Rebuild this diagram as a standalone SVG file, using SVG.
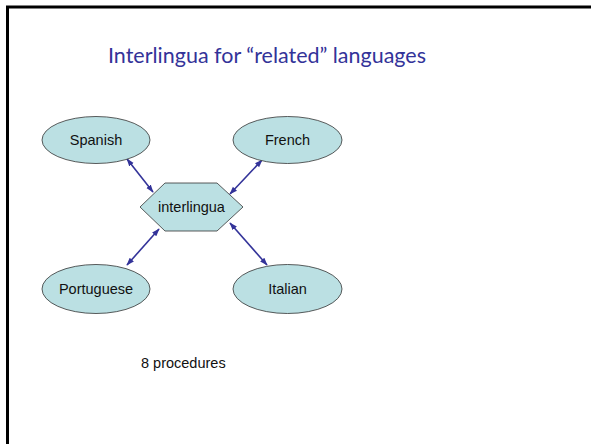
<svg xmlns="http://www.w3.org/2000/svg" width="591" height="444" viewBox="0 0 591 444">
<defs>
<style>
.node{fill:#BBE0E3;stroke:#333333;stroke-width:0.8}
.lbl{font-family:"Liberation Sans",Arial,sans-serif;font-size:14.5px;fill:#111111;text-anchor:middle;dominant-baseline:central}
.edge{stroke:#333399;stroke-width:1.6;fill:none;marker-start:url(#ah);marker-end:url(#ah)}
</style>
<marker id="ah" viewBox="0 0 10 10" refX="9" refY="5" markerWidth="5" markerHeight="5" orient="auto-start-reverse" markerUnits="strokeWidth">
<path d="M0,1.5 L10,5 L0,8.5 Z" fill="#333399"/>
</marker>
</defs>
<rect x="0" y="0" width="591" height="444" fill="#ffffff"/>
<rect x="7.5" y="7" width="620" height="470" fill="none" stroke="#000000" stroke-width="3"/>
<text x="267" y="63" font-family="Lato,'Open Sans',sans-serif" font-size="22" fill="#333399" text-anchor="middle" textLength="318" lengthAdjust="spacingAndGlyphs">Interlingua for “related” languages</text>
<g id="connectors">
<line class="edge" x1="127" y1="159" x2="153" y2="192"/>
<line class="edge" x1="262" y1="160" x2="230" y2="194"/>
<line class="edge" x1="127" y1="265" x2="159" y2="229"/>
<line class="edge" x1="230" y1="223" x2="267" y2="265"/>
</g>
<g id="spanish">
<ellipse class="node" cx="96" cy="140" rx="54" ry="23.5"/>
<text class="lbl" x="96" y="140">Spanish</text>
</g>
<g id="french">
<ellipse class="node" cx="287.5" cy="140" rx="54.5" ry="23.5"/>
<text class="lbl" x="287.5" y="140">French</text>
</g>
<g id="portuguese">
<ellipse class="node" cx="96" cy="289" rx="54" ry="24.5"/>
<text class="lbl" x="96" y="289">Portuguese</text>
</g>
<g id="italian">
<ellipse class="node" cx="287.5" cy="289" rx="54.5" ry="24.5"/>
<text class="lbl" x="287.5" y="289">Italian</text>
</g>
<g id="interlingua">
<polygon class="node" points="140,207 165,183 217,183 243,207 217,231 165,231"/>
<text class="lbl" x="191.5" y="207">interlingua</text>
</g>
<text x="141" y="368" font-family="'Liberation Sans',Arial,sans-serif" font-size="14.5" fill="#111111">8 procedures</text>
</svg>
